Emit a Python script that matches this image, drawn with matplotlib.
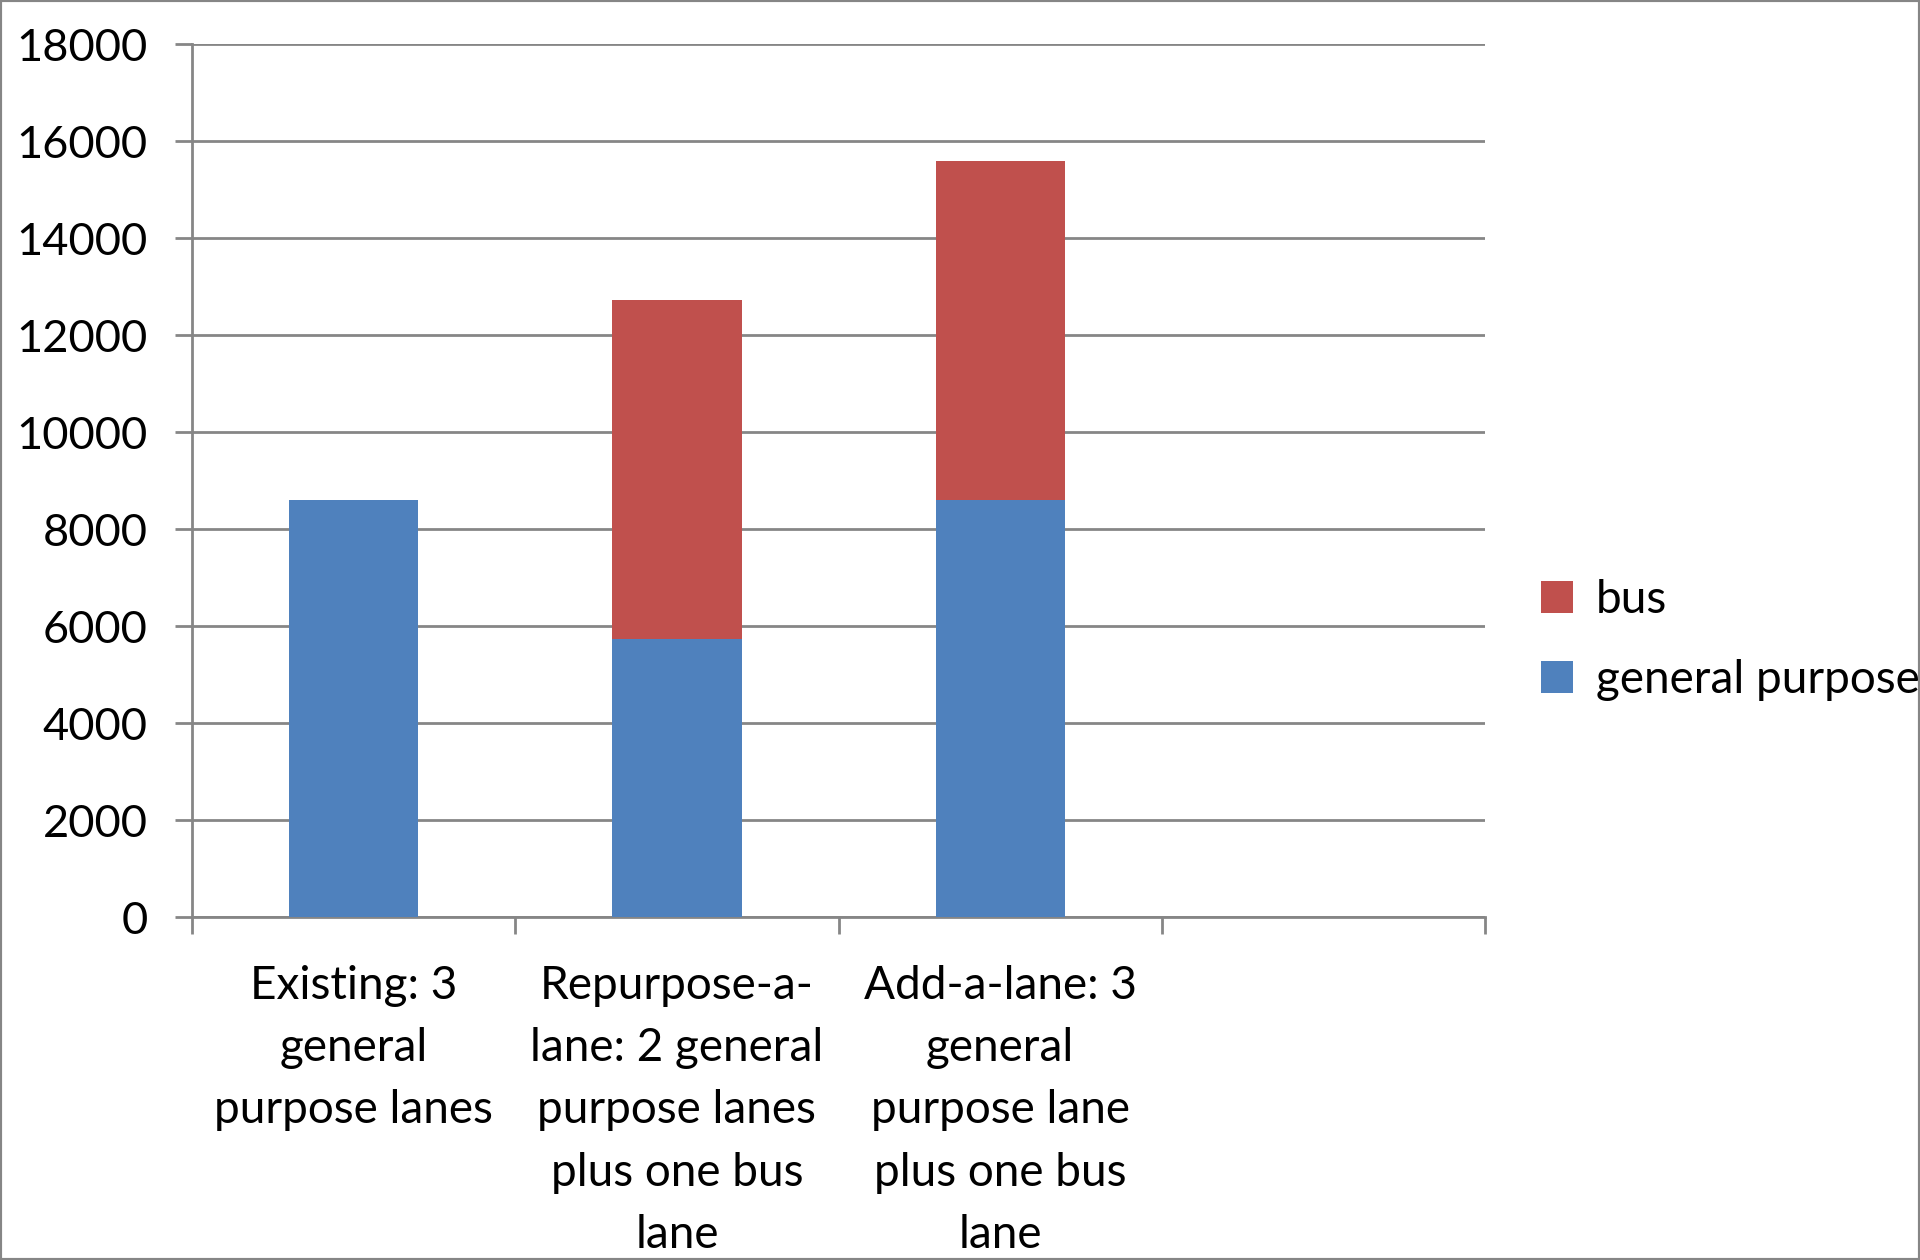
import numpy as np
import matplotlib
matplotlib.use('Agg')
import matplotlib.pyplot as plt
from matplotlib.patches import Rectangle

plt.rcParams['font.family'] = ['Lato', 'DejaVu Sans']

# Data
categories = ["Existing: 3\ngeneral\npurpose lanes",
              "Repurpose-a-\nlane: 2 general\npurpose lanes\nplus one bus\nlane",
              "Add-a-lane: 3\ngeneral\npurpose lane\nplus one bus\nlane",
              ""]
general_purpose = [8600, 5733, 8600, 0]
bus = [0, 7000, 7000, 0]

blue = '#4F81BD'
red = '#C0504D'
grid_col = '#868686'

fig = plt.figure(figsize=(19.2, 12.6), dpi=100)
ax = fig.add_axes([0.100, 0.272, 0.6735, 0.693])

x = np.arange(len(categories))
ax.bar(x, general_purpose, width=0.4, color=blue, label='general purpose', zorder=3)
ax.bar(x, bus, width=0.4, bottom=general_purpose, color=red, label='bus', zorder=3)

ax.set_xlim(-0.5, len(categories) - 0.5)
ax.set_ylim(0, 18000)
ax.set_yticks(np.arange(0, 18001, 2000))
ax.yaxis.grid(True, color=grid_col, linewidth=2)
ax.set_axisbelow(True)

ax.set_xticks(x)
ax.set_xticklabels(categories, fontsize=33, linespacing=1.6)
ax.set_xticks(np.arange(-0.5, len(categories)), minor=True)
ax.tick_params(axis='x', which='major', length=0, pad=34)
ax.tick_params(axis='x', which='minor', length=12, width=2, color=grid_col, direction='out')
ax.tick_params(axis='y', length=12, width=2, color=grid_col, labelsize=32.5, pad=20)

for side in ['top', 'right']:
    ax.spines[side].set_visible(False)
for side in ['left', 'bottom']:
    ax.spines[side].set_color(grid_col)
    ax.spines[side].set_linewidth(2)

handles, labels = ax.get_legend_handles_labels()
fig.legend(handles[::-1], labels[::-1], loc='center left', bbox_to_anchor=(0.781, 0.492),
           frameon=False, fontsize=33, handlelength=0.7, handleheight=0.7,
           handletextpad=0.5, labelspacing=0.84)

fig.patches.append(Rectangle((0, 0), 1, 1, transform=fig.transFigure, fill=False,
                             edgecolor=grid_col, linewidth=3))

fig.savefig('out.png', dpi=100)
